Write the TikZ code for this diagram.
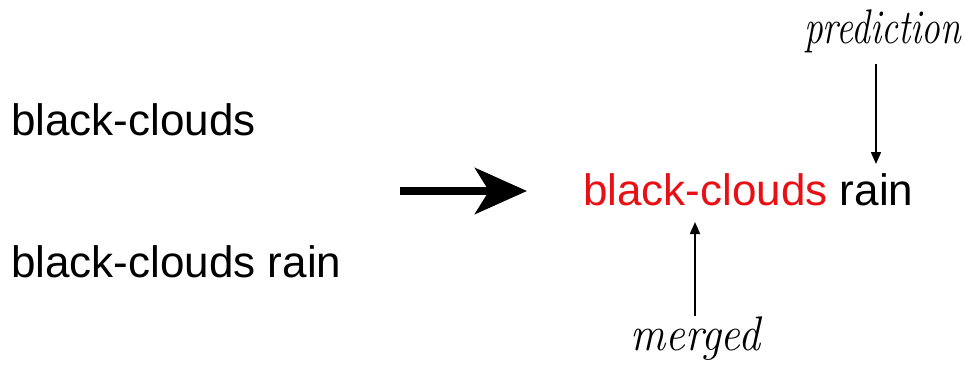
\documentclass[tikz,border=0pt]{standalone}
\usepackage{fontspec}
\setmainfont{Liberation Sans}
\newfontfamily\handfont{Latin Modern Roman}
\usetikzlibrary{arrows.meta}
\definecolor{txtred}{RGB}{232,16,20}
\tikzset{
  big/.style={inner sep=0pt, anchor=base west, font=\fontsize{44}{50}\selectfont},
  hand/.style={inner sep=0pt, anchor=base west, font=\handfont\itshape\fontsize{36}{40}\selectfont},
  thin arrow/.style={line width=1.8pt, -{Triangle[length=12pt,width=10pt]}},
  fat arrow/.style={line width=8pt, -{Stealth[length=52pt,width=46pt,inset=14pt]}},
}
\begin{document}
\begin{tikzpicture}[x=1pt,y=-1pt]
\useasboundingbox (0,0) rectangle (966,369);
\node[big] (l1) at (11,135) {black-clouds};
\node[big] (l2) at (11,277) {black-clouds rain};
\coordinate (fa) at (400,191);
\coordinate (fb) at (527,191);
\draw[fat arrow] (fa) -- (fb);
\node[big] (res) at (583,205) {\textcolor{txtred}{black-clouds} rain};
\node[hand] (pred) at (804,44) {\scalebox{1.04}[1.35]{prediction}};
\node[hand] (merg) at (630,350) {\scalebox{1.22}[1.35]{merged}};
\coordinate (pa) at (876,64);
\coordinate (pb) at (876,164);
\draw[thin arrow] (pa) -- (pb);
\coordinate (ma) at (695,316);
\coordinate (mb) at (695,222);
\draw[thin arrow] (ma) -- (mb);
\end{tikzpicture}
\end{document}
